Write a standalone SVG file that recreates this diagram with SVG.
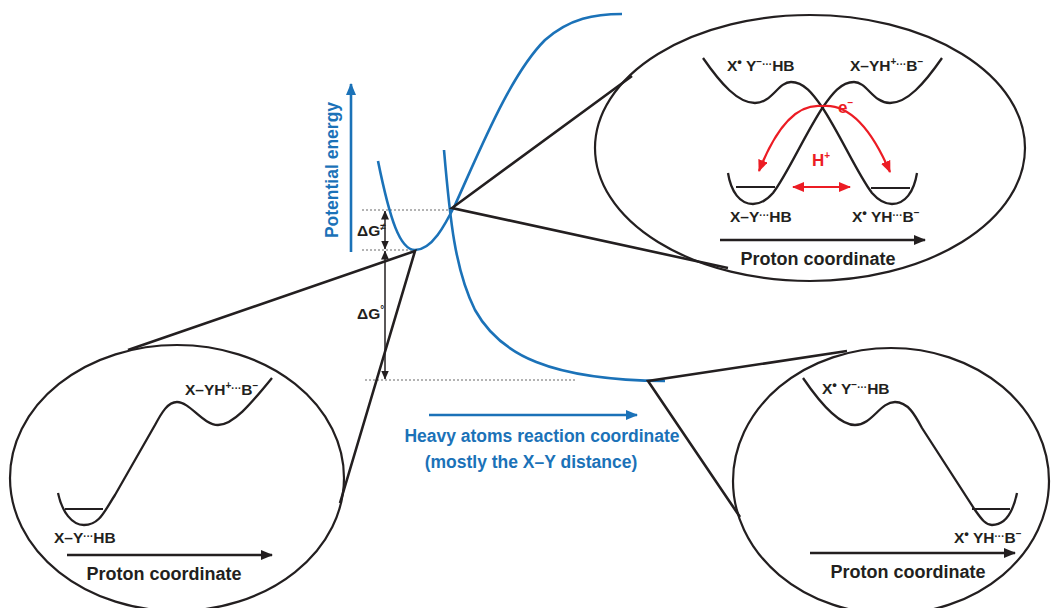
<svg xmlns="http://www.w3.org/2000/svg" width="1051" height="608" viewBox="0 0 1051 608">
<style>
  .bg{fill:#ffffff}
  .ell{fill:none;stroke:#231f20;stroke-width:2.2}
  .conn{fill:none;stroke:#231f20;stroke-width:2.6}
  .pes{fill:none;stroke:#231f20;stroke-width:2.3}
  .lvl{fill:none;stroke:#231f20;stroke-width:1.8}
  .blue{fill:none;stroke:#1b72b8;stroke-width:2.6}
  .dot{fill:none;stroke:#9a9a9a;stroke-width:1.6;stroke-dasharray:2 2}
  .red{fill:none;stroke:#ec1c24;stroke-width:2.2}
  .lab{font-family:"Liberation Sans",Arial,sans-serif;font-weight:bold;font-size:15.5px;fill:#231f20}
  .big{font-family:"Liberation Sans",Arial,sans-serif;font-weight:bold;font-size:18px;fill:#231f20;text-anchor:middle}
  .bl{font-family:"Liberation Sans",Arial,sans-serif;font-weight:bold;font-size:17.5px;fill:#1b72b8;text-anchor:middle}
  .rl{font-family:"Liberation Sans",Arial,sans-serif;font-weight:bold;font-size:17px;fill:#ec1c24}
  .sup{font-size:10px}
  .bul{font-size:13px}
  .dots{font-size:10px}
</style>
<defs>
  <marker id="ab" markerUnits="userSpaceOnUse" markerWidth="12" markerHeight="10" refX="11" refY="5" orient="auto">
    <path d="M0,0 L12,5 L0,10 Z" fill="#231f20"/>
  </marker>
  <marker id="abs" markerUnits="userSpaceOnUse" markerWidth="9" markerHeight="8" refX="8.5" refY="4" orient="auto-start-reverse">
    <path d="M0,0 L9,4 L0,8 Z" fill="#231f20"/>
  </marker>
  <marker id="abl" markerUnits="userSpaceOnUse" markerWidth="12" markerHeight="10" refX="11" refY="5" orient="auto">
    <path d="M0,0 L12,5 L0,10 Z" fill="#1b72b8"/>
  </marker>
  <marker id="ar" markerUnits="userSpaceOnUse" markerWidth="12" markerHeight="10" refX="11" refY="5" orient="auto-start-reverse">
    <path d="M0,0 L12,5 L0,10 Z" fill="#ec1c24"/>
  </marker>
</defs>
<rect class="bg" x="0" y="0" width="1051" height="608"/>

<!-- main energy diagram -->
<g id="main">
  <line class="dot" x1="362" y1="210" x2="452" y2="210"/>
  <line class="dot" x1="362" y1="250" x2="415" y2="250"/>
  <line class="dot" x1="365" y1="380" x2="575" y2="380"/>
  <path class="blue" d="M378,161 C390,220 400,250 415,250 C432,250 445,225 455,205 C480,150 510,75 545,40 C570,18 595,14 622,14"/>
  <path class="blue" d="M444,150 C450,220 455,270 475,310 C500,355 550,380 665,381"/>
  <line class="blue" x1="351" y1="252" x2="351" y2="84" marker-end="url(#abl)"/>
  <text class="bl" transform="translate(338,170) rotate(-90)" font-size="18">Potential energy</text>
  <line class="blue" x1="429" y1="415" x2="637" y2="415" marker-end="url(#abl)"/>
  <text class="bl" x="542" y="442">Heavy atoms reaction coordinate</text>
  <text class="bl" x="531" y="468">(mostly the X–Y distance)</text>
  <line stroke="#231f20" stroke-width="1.5" x1="385" y1="211" x2="385" y2="249" marker-start="url(#abs)" marker-end="url(#abs)"/>
  <line stroke="#231f20" stroke-width="1.5" x1="385" y1="251" x2="385" y2="379" marker-start="url(#abs)" marker-end="url(#abs)"/>
  <text class="lab" x="357" y="236">ΔG<tspan class="sup" dy="-6">≠</tspan></text>
  <text class="lab" x="357" y="319">ΔG<tspan class="sup" dy="-6">°</tspan></text>
</g>

<!-- connectors (zoom lines) -->
<g id="connectors">
  <polyline class="conn" points="632,76 452,208 728,268"/>
  <polyline class="conn" points="128,350 415,251 340,503"/>
  <polyline class="conn" points="847,351 648,381 740,517"/>
</g>

<!-- top-right inset -->
<g id="inset-top">
  <ellipse class="ell" cx="810" cy="148" rx="215" ry="133"/>
  <path class="pes" d="M703,58 C721,84 738,103 755,103 C772,103 778,82 791,82 C804,82 813,94 822,107 C840,134 858,175 872,193 C879,201 885,204 892,204 C905,204 914,192 917,173"/>
  <path class="pes" d="M942,58 C924,84 907,103 890,103 C873,103 867,82 854,82 C841,82 832,94 823,107 C805,134 787,175 773,193 C766,201 760,204 753,204 C740,204 731,192 728,173"/>
  <line class="lvl" x1="736" y1="187" x2="775" y2="187"/>
  <line class="lvl" x1="871" y1="188" x2="910" y2="188"/>
  <path class="red" d="M822,106 Q786,102 759,171" marker-end="url(#ar)"/>
  <path class="red" d="M822,106 Q860,102 890,172" marker-end="url(#ar)"/>
  <line class="red" x1="793" y1="187" x2="850" y2="187" marker-start="url(#ar)" marker-end="url(#ar)"/>
  <text class="rl" x="838" y="113">e<tspan class="sup" dy="-7">−</tspan></text>
  <text class="rl" x="812" y="166">H<tspan class="sup" dy="-7">+</tspan></text>
  <text class="lab" x="727" y="71">X<tspan class="bul" dy="-5">•</tspan><tspan dy="5"> Y</tspan><tspan class="sup" dy="-6">−</tspan><tspan class="dots" dy="3">···</tspan><tspan dy="3">HB</tspan></text>
  <text class="lab" x="850" y="71">X–YH<tspan class="sup" dy="-6">+</tspan><tspan class="dots" dy="3">···</tspan><tspan dy="3">B</tspan><tspan class="sup" dy="-6">−</tspan></text>
  <text class="lab" x="730" y="222">X–Y<tspan class="dots" dy="-3">···</tspan><tspan dy="3">HB</tspan></text>
  <text class="lab" x="852" y="222">X<tspan class="bul" dy="-5">•</tspan><tspan dy="5"> YH</tspan><tspan class="dots" dy="-3">···</tspan><tspan dy="3">B</tspan><tspan class="sup" dy="-6">−</tspan></text>
  <line class="conn" stroke-width="2.2" x1="720" y1="240" x2="925" y2="240" marker-end="url(#ab)"/>
  <text class="big" x="818" y="265">Proton coordinate</text>
</g>

<!-- lower-left inset -->
<g id="inset-left">
  <ellipse class="ell" cx="177" cy="478" rx="167" ry="133"/>
  <path class="pes" d="M58,493 C62,512 72,525 84,525 C100,525 105,510 115,495 L155,425 C162,412 168,402 177,402 C190,402 203,425 218,425 C233,425 250,405 272,378"/>
  <line class="lvl" x1="65" y1="509" x2="103" y2="509"/>
  <text class="lab" x="185" y="395">X–YH<tspan class="sup" dy="-6">+</tspan><tspan class="dots" dy="3">···</tspan><tspan dy="3">B</tspan><tspan class="sup" dy="-6">−</tspan></text>
  <text class="lab" x="54" y="543">X–Y<tspan class="dots" dy="-3">···</tspan><tspan dy="3">HB</tspan></text>
  <line class="conn" stroke-width="2.2" x1="67" y1="555" x2="272" y2="555" marker-end="url(#ab)"/>
  <text class="big" x="164" y="580">Proton coordinate</text>
</g>

<!-- lower-right inset -->
<g id="inset-right">
  <ellipse class="ell" cx="891" cy="481" rx="158" ry="133"/>
  <path class="pes" d="M803,378 C818,400 838,425 855,425 C872,425 880,402 895,402 C908,402 915,415 922,428 L975,510 C982,520 986,525 992,525 C1005,525 1013,512 1017,493"/>
  <line class="lvl" x1="972" y1="509" x2="1010" y2="509"/>
  <text class="lab" x="822" y="394">X<tspan class="bul" dy="-5">•</tspan><tspan dy="5"> Y</tspan><tspan class="sup" dy="-6">−</tspan><tspan class="dots" dy="3">···</tspan><tspan dy="3">HB</tspan></text>
  <text class="lab" x="954" y="543">X<tspan class="bul" dy="-5">•</tspan><tspan dy="5"> YH</tspan><tspan class="dots" dy="-3">···</tspan><tspan dy="3">B</tspan><tspan class="sup" dy="-6">−</tspan></text>
  <line class="conn" stroke-width="2.2" x1="810" y1="553" x2="1015" y2="553" marker-end="url(#ab)"/>
  <text class="big" x="908" y="578">Proton coordinate</text>
</g>
</svg>
